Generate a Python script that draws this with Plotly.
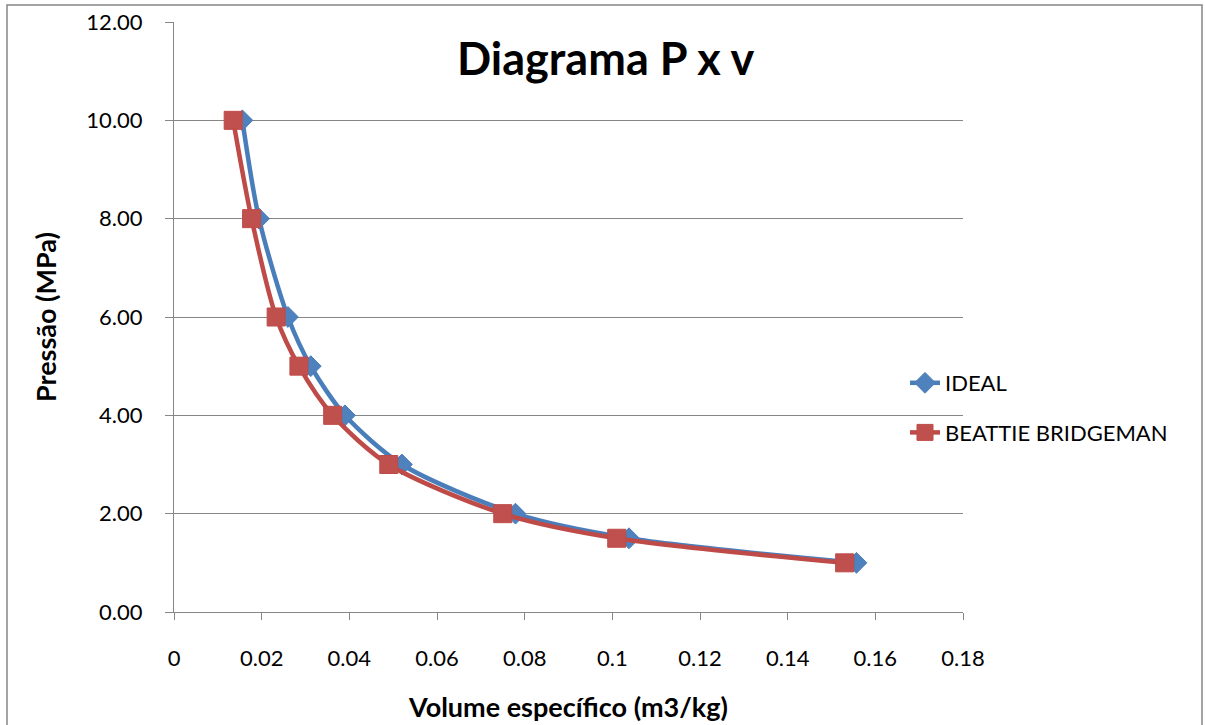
import plotly.graph_objects as go

pressure = [10, 8, 6, 5, 4, 3, 2, 1.5, 1]
v_ideal = [0.0156, 0.0194, 0.0260, 0.0312, 0.0390, 0.0520, 0.0779, 0.1038, 0.1557]
v_bb = [0.0135, 0.0177, 0.0233, 0.0285, 0.0362, 0.0490, 0.0750, 0.1010, 0.1530]
x_ticks = [0, 0.02, 0.04, 0.06, 0.08, 0.1, 0.12, 0.14, 0.16, 0.18]
x_ticktext = ["0", "0.02", "0.04", "0.06", "0.08", "0.1", "0.12", "0.14", "0.16", "0.18"]
y_ticks = [0, 2, 4, 6, 8, 10, 12]

FONT = "Lato"
GRID = "#868686"

fig = go.Figure()
fig.add_trace(go.Scatter(
    x=v_ideal, y=pressure, name="IDEAL", mode="lines+markers", legendgroup="a",
    line=dict(color="#4A7EBB", width=4.5, shape="spline", smoothing=0.8),
    marker=dict(symbol="diamond", size=16, color="#4F81BD", line=dict(color="#4A7EBB", width=1)),
))
fig.add_trace(go.Scatter(
    x=v_bb, y=pressure, name="BEATTIE BRIDGEMAN", mode="lines+markers", legendgroup="b",
    line=dict(color="#BE4B48", width=4.5, shape="spline", smoothing=0.8),
    marker=dict(symbol="square", size=18, color="#C0504D", line=dict(color="#BE4B48", width=1)),
))

L, R, T, B = 174, 963, 22, 612
W, H = 1205, 725
def px(x):
    return (x - L) / (R - L)
def py(y):
    return (B - y) / (B - T)

fig.update_layout(
    width=W, height=H,
    margin=dict(l=L, r=W - R, t=T, b=H - B),
    paper_bgcolor="white", plot_bgcolor="white",
    font=dict(family=FONT, size=22, color="black"),
    showlegend=True,
    legend=dict(x=px(905), y=py(408), xanchor="left", yanchor="middle",
                font=dict(size=22, family=FONT), bgcolor="rgba(0,0,0,0)",
                traceorder="grouped", tracegroupgap=18, itemwidth=30),
    xaxis=dict(
        range=[0, 0.18], tickvals=x_ticks, ticktext=x_ticktext, automargin=False,
        showgrid=False, zeroline=False,
        showline=True, linecolor=GRID, linewidth=1,
        ticks="outside", ticklen=7, tickcolor=GRID, tickfont=dict(size=22),
        ticklabelstandoff=20,
        title=dict(text="<b>Volume específico (m3/kg)</b>", font=dict(size=27), standoff=27),
    ),
    yaxis=dict(
        range=[0, 12], tickvals=y_ticks, tickformat=".2f", automargin=False,
        showgrid=True, gridcolor=GRID, gridwidth=1, zeroline=False,
        showline=True, linecolor=GRID, linewidth=1,
        ticks="outside", ticklen=8, tickcolor=GRID, tickfont=dict(size=22),
        ticklabelstandoff=18,
        title=dict(text="<b>Pressão (MPa)</b>", font=dict(size=27), standoff=21),
    ),
    annotations=[dict(
        text="<b>Diagrama P x v</b>", x=px(606), y=py(58), xref="paper", yref="paper",
        xanchor="center", yanchor="middle", showarrow=False,
        font=dict(size=45, family=FONT, color="black"),
    )],
    shapes=[dict(type="rect", xref="paper", yref="paper",
                 x0=px(7), x1=px(1202), y0=py(740), y1=py(5),
                 line=dict(color=GRID, width=1.5), fillcolor="rgba(0,0,0,0)", layer="below")],
)

fig.write_html("out.html")
